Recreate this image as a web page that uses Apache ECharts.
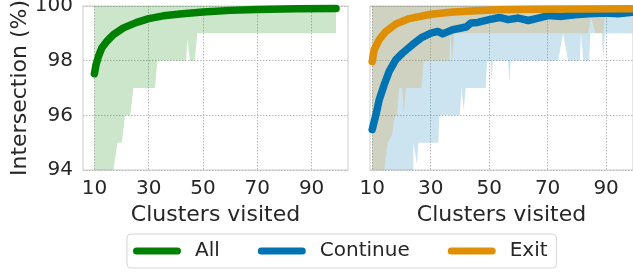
<!DOCTYPE html>
<html>
<head>
<meta charset="utf-8">
<script src="https://cdn.jsdelivr.net/npm/echarts@6/dist/echarts.min.js"></script>
<style>
  html, body { margin: 0; padding: 0; background: #fff; }
  #chart { width: 633px; height: 275px; }
</style>
</head>
<body>
<div id="chart"></div>
<script>
// tick labels
const xTicks = [10, 30, 50, 70, 90]
const yTicks = [94, 96, 98, 100]

// left panel: All (mean line + lower edge of the min..max band)
const allLine = [[10, 97.52], [10.6, 97.85], [11.5, 98.16], [12.7, 98.46], [14.6, 98.71], [17, 98.95],
  [20.7, 99.2], [25.6, 99.4], [30, 99.54], [35.4, 99.64], [41.5, 99.71], [50, 99.78],
  [60, 99.84], [69.8, 99.87], [84.5, 99.9], [99, 99.91]]
const allMin = [[10, 85], [16.6, 85], [17, 94], [18.5, 95], [20.1, 95], [21.3, 96], [23.2, 96],
  [24.4, 97], [32.3, 97], [33.2, 98], [43.8, 98], [44.2, 98.8], [45.2, 98], [47, 98],
  [47.9, 99], [99, 99]]

// right panel: Continue / Exit
const continueLine = [[10, 95.48], [11.3, 96.03], [12.4, 96.57], [14.1, 97.12], [15.8, 97.61],
  [18.1, 98.04], [20.4, 98.28], [23.8, 98.59], [26.7, 98.83], [30.1, 99.01], [32.4, 99.07],
  [34.1, 98.98], [37.5, 99.13], [42.1, 99.23], [43.8, 99.38], [46.1, 99.4], [50, 99.5],
  [53.5, 99.58], [56.5, 99.5], [60, 99.56], [63.4, 99.47], [66.8, 99.56], [70.2, 99.65],
  [74.8, 99.62], [79.3, 99.68], [83.9, 99.72], [89.6, 99.74], [94.1, 99.72], [99, 99.77]]
const continueMin = [[10, 88], [23.8, 88], [24.1, 95], [25.3, 94.2], [25.8, 95], [32.6, 95],
  [33, 96], [40, 96], [40.5, 97], [41.3, 96.2], [42, 97], [48.8, 97], [49.3, 98], [50.5, 98],
  [50.8, 97.3], [51.3, 98], [56.5, 98], [56.9, 97.2], [57.4, 98], [73.6, 98], [75.3, 99],
  [77, 98], [81, 98], [81.4, 99], [82.2, 98], [84.2, 98], [84.6, 99], [88.6, 99], [89, 98],
  [89.6, 99], [99, 99]]
const exitLine = [[10, 97.97], [10.7, 98.4], [12.4, 98.77], [14.7, 99.07], [18.1, 99.34],
  [22.7, 99.54], [30.1, 99.7], [37.5, 99.78], [45.5, 99.83], [52.9, 99.86], [65, 99.88],
  [80, 99.89], [99, 99.9]]
const exitMin = [[10, 90], [13.8, 90], [14.1, 94], [15.3, 95], [16.8, 95.3], [17.8, 96],
  [18.5, 96], [19.2, 97], [20.3, 97], [20.8, 96.1], [21.5, 97], [26.9, 97], [27.6, 98],
  [36.3, 98], [36.8, 99], [37.3, 98], [38.1, 99], [83.9, 99], [84.8, 99.6], [86.4, 99],
  [89, 99], [89.6, 99.75], [99, 99.75]]

const GREEN = '#008000'
const BLUE = '#0173b2'
const ORANGE = '#de8f05'
const TEXT = '#262626'
const FONT = 'DejaVu Sans'

const myChart = echarts.init(document.getElementById('chart'), null, { renderer: 'canvas' })

const gridLine = { show: true, lineStyle: { color: '#b8b8b8', width: 1, type: [1.5, 1.5] } }

function xAxisFor (idx, min, max) {
  return {
    type: 'value',
    gridIndex: idx,
    min: min,
    max: max,
    axisLine: { show: false },
    axisTick: { show: false, customValues: xTicks },
    axisLabel: { customValues: xTicks, fontSize: 20, color: TEXT, fontFamily: FONT, margin: 9 },
    splitLine: gridLine,
    name: 'Clusters visited',
    nameLocation: 'middle',
    nameGap: 31,
    nameTextStyle: { fontSize: 22, color: TEXT, fontFamily: FONT }
  }
}

function yAxisFor (idx, showLabels) {
  const axis = {
    type: 'value',
    gridIndex: idx,
    min: 94,
    max: 100,
    axisLine: { show: false },
    axisTick: { show: false, customValues: yTicks },
    axisLabel: { show: showLabels, customValues: yTicks, fontSize: 20, color: TEXT, fontFamily: FONT, margin: 10 },
    splitLine: gridLine
  }
  if (showLabels) {
    axis.name = 'Intersection (%)'
    axis.nameLocation = 'middle'
    axis.nameGap = 50
    axis.nameTextStyle = { fontSize: 22, color: TEXT, fontFamily: FONT }
  }
  return axis
}

function band (name, idx, data, fill) {
  return {
    name: name,
    type: 'line',
    xAxisIndex: idx,
    yAxisIndex: idx,
    data: data,
    showSymbol: false,
    symbol: 'none',
    silent: true,
    lineStyle: { width: 0 },
    areaStyle: { origin: 'end', color: fill, opacity: 1 },
    z: 1
  }
}

function mainLine (name, idx, data, color, z) {
  return {
    name: name,
    type: 'line',
    xAxisIndex: idx,
    yAxisIndex: idx,
    data: data,
    showSymbol: false,
    symbol: 'none',
    itemStyle: { color: color },
    lineStyle: { color: color, width: 7.5, cap: 'round', join: 'round' },
    z: z
  }
}

const capsule = 'path://M3.5,0 L44.5,0 A3.5,3.5 0 0 1 44.5,7 L3.5,7 A3.5,3.5 0 0 1 3.5,0 Z'

const option = {
  animation: false,
  backgroundColor: '#ffffff',
  textStyle: { fontFamily: FONT },
  grid: [
    { left: 83, top: 6, width: 265, height: 164, show: true, borderColor: '#cccccc', borderWidth: 1, backgroundColor: '#ffffff', outerBoundsMode: 'none' },
    { left: 370, top: 6, right: 0, height: 164, show: true, borderColor: '#cccccc', borderWidth: 1, backgroundColor: '#ffffff', outerBoundsMode: 'none' }
  ],
  xAxis: [xAxisFor(0, 5.8, 103.4), xAxisFor(1, 9.25, 99.2)],
  yAxis: [yAxisFor(0, true), yAxisFor(1, false)],
  legend: {
    data: [
      { name: 'All', icon: capsule, itemStyle: { color: GREEN } },
      { name: 'Continue', icon: capsule, itemStyle: { color: BLUE } },
      { name: 'Exit', icon: capsule, itemStyle: { color: ORANGE } }
    ],
    left: 127,
    top: 234,
    orient: 'horizontal',
    itemWidth: 48,
    itemHeight: 7,
    itemGap: 38,
    selectedMode: false,
    padding: [7, 9, 7, 6],
    borderColor: '#d6d6d6',
    borderWidth: 1,
    borderRadius: 4,
    backgroundColor: '#ffffff',
    textStyle: { fontSize: 20, color: TEXT, fontFamily: FONT, padding: [0, 0, 0, 9] }
  },
  series: [
    band('All range', 0, allMin, 'rgba(0,128,0,0.2)'),
    band('Continue range', 1, continueMin, 'rgba(1,115,178,0.2)'),
    band('Exit range', 1, exitMin, 'rgba(222,143,5,0.2)'),
    mainLine('All', 0, allLine, GREEN, 5),
    mainLine('Continue', 1, continueLine, BLUE, 5),
    mainLine('Exit', 1, exitLine, ORANGE, 6)
  ]
}

myChart.setOption(option)
</script>
</body>
</html>
